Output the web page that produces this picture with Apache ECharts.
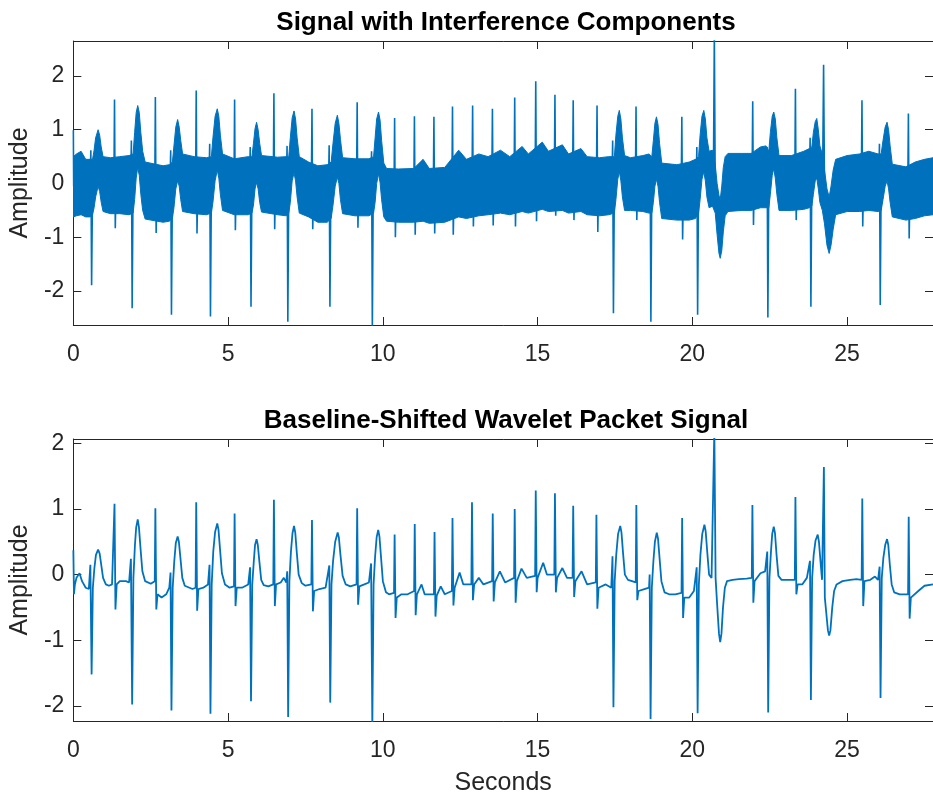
<!DOCTYPE html>
<html><head><meta charset="utf-8">
<script src="https://cdn.jsdelivr.net/npm/echarts@6/dist/echarts.min.js"></script>
<style>html,body{margin:0;padding:0;background:#fff}#c{width:933px;height:797px}</style>
</head><body><div id="c"></div>
<script>
// ---------- data ----------
const xTicks = [0, 5, 10, 15, 20, 25];
const yTicks = [-2, -1, 0, 1, 2];
const xMax = 27.775;
const topYRange = [-2.63, 2.65];
const botYRange = [-2.23, 2.065];
const titles = ['Signal with Interference Components', 'Baseline-Shifted Wavelet Packet Signal'];
const yName = 'Amplitude';
const xName = 'Seconds';

// top panel: interference band envelope [t, lower, upper]
const topBand = [
[0,-0.62,0.5],[0.1,-0.6,0.55],[0.25,-0.58,0.6],[0.4,-0.62,0.45],[0.55,-0.62,0.45],
[0.62,-0.58,0.45],[0.67,-0.45,0.62],[0.72,-0.25,0.85],[0.8,-0.05,1.0],[0.85,-0.15,0.9],[0.9,-0.35,0.68],[0.96,-0.52,0.5],
[1.2,-0.56,0.48],[1.5,-0.56,0.5],[1.8,-0.58,0.52],
[1.93,-0.55,0.55],[1.98,-0.3,0.95],[2.03,0.1,1.32],[2.08,0.3,1.45],[2.13,0.15,1.32],[2.18,-0.2,0.95],[2.24,-0.5,0.6],[2.32,-0.66,0.4],
[2.9,-0.72,0.33],[3.1,-0.7,0.35],
[3.2,-0.65,0.4],[3.25,-0.45,0.7],[3.31,-0.1,1.05],[3.37,0.05,1.19],[3.42,-0.05,1.05],[3.47,-0.3,0.8],[3.53,-0.52,0.55],
[3.9,-0.56,0.5],[4.3,-0.58,0.48],
[4.46,-0.55,0.5],[4.51,-0.35,0.85],[4.58,0.05,1.25],[4.65,0.25,1.39],[4.7,0.1,1.25],[4.75,-0.2,0.9],[4.82,-0.5,0.55],
[5.2,-0.58,0.46],[5.65,-0.58,0.5],
[5.77,-0.55,0.5],[5.82,-0.4,0.75],[5.87,-0.1,1.02],[5.92,0.02,1.14],[5.97,-0.1,1.0],[6.02,-0.35,0.75],[6.08,-0.53,0.52],
[6.6,-0.58,0.49],[6.88,-0.6,0.5],
[6.96,-0.55,0.5],[7.01,-0.35,0.85],[7.07,0.05,1.22],[7.13,0.2,1.35],[7.18,0.05,1.2],[7.23,-0.25,0.85],[7.3,-0.55,0.5],
[7.6,-0.62,0.4],[7.9,-0.72,0.33],[8.2,-0.72,0.35],
[8.33,-0.65,0.4],[8.39,-0.4,0.75],[8.46,-0.05,1.12],[8.53,0.12,1.27],[8.58,0.0,1.12],[8.63,-0.3,0.82],[8.7,-0.56,0.48],
[9.1,-0.6,0.46],[9.55,-0.6,0.46],
[9.7,-0.55,0.5],[9.75,-0.35,0.85],[9.8,0.0,1.2],[9.86,0.18,1.33],[9.91,0.02,1.18],[9.96,-0.3,0.8],[10.03,-0.62,0.38],[10.12,-0.7,0.28],
[10.5,-0.72,0.27],[11.0,-0.72,0.28],[11.3,-0.7,0.45],[11.5,-0.74,0.28],[12.0,-0.72,0.3],[12.45,-0.62,0.62],[12.7,-0.65,0.45],
[13.1,-0.6,0.55],[13.4,-0.58,0.5],[13.8,-0.55,0.62],[14.1,-0.58,0.5],[14.5,-0.52,0.69],[14.7,-0.55,0.55],[15.15,-0.48,0.77],
[15.35,-0.52,0.6],[15.8,-0.5,0.72],[16.0,-0.55,0.55],[16.4,-0.52,0.65],[16.6,-0.58,0.5],[17.0,-0.6,0.48],[17.3,-0.58,0.5],
[17.48,-0.55,0.5],[17.53,-0.3,0.9],[17.59,0.08,1.25],[17.64,0.22,1.36],[17.69,0.05,1.2],[17.74,-0.25,0.85],[17.81,-0.5,0.52],
[18.0,-0.5,0.48],[18.4,-0.52,0.52],[18.6,-0.55,0.55],
[18.69,-0.55,0.5],[18.74,-0.35,0.8],[18.79,-0.05,1.12],[18.84,0.08,1.24],[18.89,-0.05,1.1],[18.94,-0.35,0.75],[19.01,-0.65,0.38],
[19.5,-0.68,0.35],[19.9,-0.68,0.4],[20.1,-0.65,0.45],
[20.2,-0.55,0.5],[20.25,-0.3,0.9],[20.31,0.08,1.25],[20.37,0.22,1.36],[20.42,0.05,1.2],[20.47,-0.25,0.85],[20.54,-0.45,0.6],
[20.65,-0.42,0.62],[20.74,-0.55,0.35],[20.8,-0.95,0.0],[20.86,-1.3,-0.22],[20.9,-1.39,-0.3],[20.95,-1.25,-0.05],[21.0,-0.9,0.3],
[21.06,-0.6,0.5],[21.15,-0.52,0.56],[21.6,-0.5,0.56],[21.9,-0.5,0.56],[22.2,-0.45,0.68],[22.38,-0.45,0.7],
[22.47,-0.45,0.6],[22.52,-0.2,0.95],[22.58,0.15,1.25],[22.63,0.28,1.33],[22.68,0.1,1.2],[22.73,-0.2,0.85],[22.8,-0.5,0.52],
[23.2,-0.5,0.52],[23.6,-0.48,0.6],[23.78,-0.45,0.65],
[23.86,-0.42,0.68],[23.91,-0.2,0.95],[23.97,0.05,1.15],[24.02,0.1,1.21],[24.07,-0.1,1.0],[24.12,-0.35,0.7],[24.2,-0.5,0.55],
[24.27,-0.75,0.25],[24.35,-1.15,-0.1],[24.42,-1.3,-0.25],[24.48,-1.15,-0.05],[24.55,-0.85,0.25],[24.63,-0.58,0.45],
[25.0,-0.52,0.52],[25.4,-0.52,0.55],[25.7,-0.5,0.6],[26.0,-0.52,0.55],
[26.1,-0.5,0.55],[26.16,-0.3,0.8],[26.23,-0.05,1.05],[26.29,0.05,1.14],[26.34,-0.1,1.0],[26.39,-0.35,0.7],[26.46,-0.62,0.36],
[26.9,-0.68,0.31],[27.2,-0.65,0.4],[27.5,-0.6,0.45],[27.775,-0.58,0.48]
];

// top panel: spikes that leave the band, one segment each [t, amplitude]
const topSegments = [
[[0,0.99],[0.01,-0.05]],
[[0.54,-0.05],[0.565,0.62],[0.59,-1.89],[0.62,-0.05]],
[[1.31,-0.05],[1.33,1.56],[1.355,-0.83],[1.38,-0.05]],
[[1.85,-0.05],[1.875,0.8],[1.9,-2.32],[1.93,0.0]],
[[2.63,-0.15],[2.65,1.61],[2.675,-0.92],[2.7,-0.15]],
[[3.12,-0.15],[3.145,0.62],[3.17,-2.44],[3.2,-0.1]],
[[3.95,-0.05],[3.97,1.73],[3.995,-0.93],[4.02,-0.05]],
[[4.38,-0.05],[4.405,0.74],[4.43,-2.47],[4.46,-0.05]],
[[5.19,-0.05],[5.21,1.56],[5.235,-0.87],[5.26,-0.05]],
[[5.69,-0.05],[5.715,0.68],[5.74,-2.29],[5.77,-0.05]],
[[6.46,-0.05],[6.48,1.68],[6.505,-0.85],[6.53,-0.05]],
[[6.88,-0.05],[6.905,0.7],[6.93,-2.57],[6.96,-0.05]],
[[7.69,-0.1],[7.71,1.39],[7.735,-0.85],[7.76,-0.1]],
[[8.24,-0.15],[8.265,0.71],[8.29,-2.29],[8.32,-0.1]],
[[9.15,-0.07],[9.17,1.51],[9.195,-0.82],[9.22,-0.07]],
[[9.61,-0.07],[9.635,0.6],[9.66,-2.75],[9.69,-0.05]],
[[10.36,-0.2],[10.38,1.22],[10.405,-1.0],[10.43,-0.2]],
[[11.0,-0.2],[11.02,1.25],[11.045,-0.95],[11.07,-0.2]],
[[11.63,-0.2],[11.65,1.24],[11.675,-0.93],[11.7,-0.2]],
[[12.23,-0.2],[12.25,1.43],[12.275,-0.95],[12.3,-0.15]],
[[12.88,-0.1],[12.9,1.45],[12.925,-0.8],[12.95,-0.05]],
[[13.52,-0.05],[13.54,1.39],[13.565,-0.78],[13.59,-0.05]],
[[14.24,-0.05],[14.26,1.6],[14.285,-0.8],[14.31,0.0]],
[[14.92,0.05],[14.94,1.9],[14.965,-0.7],[14.99,0.05]],
[[15.54,0.05],[15.56,1.65],[15.585,-0.6],[15.61,0.05]],
[[16.13,0.0],[16.15,1.55],[16.175,-0.68],[16.2,0.0]],
[[16.9,-0.05],[16.92,1.45],[16.945,-0.9],[16.97,-0.05]],
[[17.4,-0.05],[17.425,0.8],[17.45,-2.41],[17.48,-0.05]],
[[18.16,0.0],[18.18,1.43],[18.205,-0.68],[18.23,0.0]],
[[18.61,0.0],[18.635,0.5],[18.66,-2.57],[18.69,-0.05]],
[[19.64,-0.15],[19.66,1.24],[19.685,-1.04],[19.71,-0.15]],
[[20.12,-0.1],[20.145,0.68],[20.17,-2.44],[20.2,-0.05]],
[[20.68,0.1],[20.71,2.8],[20.74,-0.2]],
[[21.93,0.05],[21.95,1.53],[21.975,-0.77],[22.0,0.05]],
[[22.39,0.1],[22.415,0.68],[22.44,-2.49],[22.47,0.05]],
[[23.31,0.0],[23.33,1.76],[23.355,-0.68],[23.38,0.0]],
[[23.78,0.1],[23.805,0.85],[23.83,-2.29],[23.86,0.1]],
[[24.21,0.2],[24.24,2.21],[24.27,-0.1]],
[[25.46,0.0],[25.48,1.55],[25.505,-0.8],[25.53,0.0]],
[[26.02,0.0],[26.045,0.74],[26.07,-2.26],[26.1,0.0]],
[[26.96,-0.15],[26.98,1.3],[27.005,-1.02],[27.03,-0.15]]
];

// bottom panel: baseline-shifted signal [t, amplitude]
const bottomSignal = [
[0,0.37],[0.02,-0.3],[0.05,-0.15],[0.1,-0.05],[0.2,0.02],[0.28,-0.1],[0.4,-0.2],[0.5,-0.22],[0.55,0.15],
[0.59,-1.52],[0.63,-0.2],[0.68,0.1],[0.73,0.3],[0.8,0.38],[0.85,0.32],[0.9,0.15],[0.96,-0.05],[1.05,-0.15],
[1.15,-0.17],[1.25,-0.15],[1.31,-0.12],[1.33,1.08],[1.36,-0.53],[1.4,-0.15],[1.5,-0.1],[1.7,-0.1],[1.8,-0.12],[1.86,0.24],
[1.9,-1.98],[1.94,-0.05],[1.99,0.45],[2.03,0.72],[2.08,0.84],[2.12,0.72],[2.17,0.4],[2.23,0.05],[2.32,-0.1],
[2.5,-0.14],[2.63,-0.1],[2.65,1.01],[2.68,-0.53],[2.72,-0.3],[2.85,-0.35],[3.0,-0.3],[3.1,-0.2],[3.14,0.03],
[3.17,-2.07],[3.21,-0.2],[3.26,0.2],[3.31,0.48],[3.37,0.58],[3.41,0.5],[3.46,0.25],[3.52,-0.05],[3.6,-0.17],
[3.75,-0.2],[3.85,-0.22],[3.95,-0.2],[3.97,1.10],[4.0,-0.55],[4.04,-0.22],[4.2,-0.2],[4.35,-0.15],[4.4,0.15],
[4.43,-2.12],[4.47,-0.15],[4.52,0.35],[4.58,0.65],[4.65,0.78],[4.69,0.68],[4.74,0.38],[4.8,0.02],[4.9,-0.15],
[5.05,-0.2],[5.19,-0.18],[5.21,0.93],[5.24,-0.48],[5.28,-0.2],[5.45,-0.2],[5.65,-0.15],[5.71,0.11],
[5.74,-1.93],[5.78,-0.15],[5.83,0.2],[5.87,0.45],[5.92,0.54],[5.96,0.45],[6.01,0.2],[6.07,-0.08],[6.15,-0.16],
[6.3,-0.18],[6.46,-0.15],[6.48,1.14],[6.51,-0.48],[6.55,-0.15],[6.7,-0.12],[6.8,-0.05],[6.88,-0.12],[6.91,0.05],
[6.94,-2.17],[6.98,-0.1],[7.03,0.35],[7.08,0.63],[7.13,0.74],[7.17,0.64],[7.22,0.33],[7.28,0.0],[7.38,-0.13],
[7.5,-0.17],[7.69,-0.15],[7.71,0.83],[7.74,-0.56],[7.78,-0.25],[7.95,-0.22],[8.15,-0.2],[8.27,0.14],
[8.3,-1.95],[8.34,-0.15],[8.39,0.2],[8.46,0.5],[8.54,0.64],[8.58,0.56],[8.63,0.3],[8.7,-0.02],[8.8,-0.15],
[8.95,-0.18],[9.15,-0.15],[9.17,1.01],[9.2,-0.46],[9.24,-0.18],[9.4,-0.15],[9.55,-0.12],[9.62,0.17],
[9.66,-2.3],[9.7,-0.15],[9.75,0.28],[9.8,0.57],[9.85,0.68],[9.89,0.58],[9.94,0.27],[10.0,-0.1],[10.1,-0.27],
[10.2,-0.3],[10.36,-0.28],[10.38,0.61],[10.41,-0.66],[10.45,-0.35],[10.6,-0.3],[10.8,-0.3],[11.01,-0.25],[11.03,0.77],
[11.06,-0.62],[11.1,-0.3],[11.25,-0.15],[11.35,-0.3],[11.5,-0.3],[11.65,-0.3],[11.67,0.65],[11.7,-0.64],[11.74,-0.32],
[11.87,-0.18],[12.0,-0.3],[12.23,-0.25],[12.25,0.86],[12.28,-0.47],[12.32,-0.2],[12.48,0.03],[12.6,-0.15],[12.86,-0.15],
[12.88,1.10],[12.91,-0.39],[12.95,-0.15],[13.1,-0.05],[13.25,-0.15],[13.53,-0.1],[13.55,0.93],[13.58,-0.41],[13.62,-0.12],
[13.78,0.05],[13.95,-0.12],[14.24,-0.05],[14.26,1.0],[14.29,-0.43],[14.33,-0.1],[14.48,0.09],[14.65,-0.05],[14.92,-0.02],
[14.94,1.28],[14.97,-0.27],[15.0,-0.05],[15.18,0.18],[15.3,0.0],[15.54,0.0],[15.56,1.24],[15.59,-0.27],[15.63,-0.05],
[15.8,0.1],[15.95,-0.05],[16.13,-0.05],[16.15,1.05],[16.18,-0.34],[16.22,-0.1],[16.42,0.05],[16.6,-0.15],[16.88,-0.12],
[16.9,0.91],[16.93,-0.52],[16.97,-0.2],[17.2,-0.15],[17.38,-0.2],[17.42,0.28],
[17.45,-2.02],[17.49,-0.1],[17.54,0.3],[17.6,0.62],[17.67,0.74],[17.71,0.64],[17.76,0.33],[17.82,0.0],[17.92,-0.08],
[18.05,-0.1],[18.17,-0.12],[18.19,1.06],[18.22,-0.39],[18.26,-0.25],[18.45,-0.22],[18.6,-0.2],[18.62,0.0],
[18.65,-2.2],[18.69,-0.2],[18.74,0.2],[18.79,0.5],[18.85,0.64],[18.89,0.55],[18.94,0.25],[19.0,-0.1],[19.1,-0.27],
[19.25,-0.3],[19.45,-0.3],[19.65,-0.28],[19.67,0.86],[19.7,-0.66],[19.74,-0.35],[19.9,-0.35],[20.05,-0.25],[20.14,0.11],
[20.17,-2.11],[20.21,-0.15],[20.26,0.3],[20.32,0.62],[20.39,0.76],[20.43,0.66],[20.48,0.35],[20.54,0.0],[20.62,-0.05],
[20.67,-0.03],[20.71,2.2],[20.75,-0.05],[20.8,-0.45],[20.86,-0.9],[20.9,-1.03],[20.94,-0.9],[20.99,-0.5],[21.05,-0.2],[21.12,-0.1],
[21.3,-0.08],[21.5,-0.07],[21.75,-0.06],[21.92,-0.05],[21.94,1.06],[21.97,-0.43],[22.01,-0.1],[22.2,0.02],[22.35,0.05],[22.42,0.35],
[22.45,-2.1],[22.49,-0.05],[22.54,0.35],[22.58,0.62],[22.63,0.73],[22.67,0.63],[22.72,0.3],[22.78,-0.02],[22.88,-0.08],
[23.05,-0.08],[23.31,-0.08],[23.33,1.18],[23.36,-0.3],[23.4,-0.15],[23.55,-0.15],[23.7,-0.05],[23.8,0.21],
[23.83,-1.91],[23.87,-0.05],[23.92,0.3],[23.98,0.52],[24.05,0.61],[24.09,0.5],[24.14,0.2],[24.19,-0.08],[24.23,-0.05],
[24.25,1.64],[24.28,-0.35],[24.33,-0.6],[24.38,-0.85],[24.42,-0.93],[24.46,-0.85],[24.52,-0.5],[24.58,-0.25],[24.66,-0.15],
[24.85,-0.1],[25.1,-0.08],[25.3,-0.07],[25.47,-0.08],[25.49,1.16],[25.52,-0.48],[25.56,-0.1],[25.75,-0.08],[25.9,-0.03],
[26.0,-0.08],[26.05,0.12],
[26.08,-1.88],[26.12,-0.05],[26.17,0.25],[26.23,0.45],[26.29,0.54],[26.33,0.45],[26.38,0.15],[26.44,-0.15],[26.52,-0.27],
[26.7,-0.3],[26.97,-0.3],[26.99,0.88],[27.02,-0.67],[27.06,-0.35],[27.3,-0.25],[27.5,-0.17],[27.775,-0.15]
];

// ---------- chart ----------
const FONT = "'Liberation Sans', Arial, Helvetica, sans-serif";
const AX = '#262626';
const BLUE = '#0072BD';
const TICK_FS = 23, NAME_FS = 25, TITLE_FS = 26;

const grids = [
  {left: 72.5, top: 41, width: 867, height: 284},
  {left: 72.5, top: 439, width: 867, height: 284}
];

function xAx(g, pos, main) {
  return {
    type: 'value', gridIndex: g, position: pos, min: 0, max: xMax,
    axisLine: {show: true, onZero: false, lineStyle: {color: AX, width: 1}},
    axisTick: {show: true, inside: true, length: 8, customValues: xTicks, lineStyle: {color: AX, width: 1}},
    axisLabel: {show: main, customValues: xTicks, margin: 18, color: AX, fontSize: TICK_FS, fontFamily: FONT},
    splitLine: {show: false},
    name: (main && g === 1) ? xName : '',
    nameLocation: 'middle', nameGap: 50,
    nameTextStyle: {color: AX, fontSize: NAME_FS, fontFamily: FONT}
  };
}
function yAx(g, pos, main, range) {
  return {
    type: 'value', gridIndex: g, position: pos, min: range[0], max: range[1],
    axisLine: {show: true, onZero: false, lineStyle: {color: AX, width: 1}},
    axisTick: {show: true, inside: true, length: 8, customValues: yTicks, lineStyle: {color: AX, width: 1}},
    axisLabel: {show: main, customValues: yTicks, margin: 9, color: AX, fontSize: TICK_FS, fontFamily: FONT},
    splitLine: {show: false},
    name: main ? yName : '',
    nameLocation: 'middle', nameGap: 30,
    nameTextStyle: {color: AX, fontSize: NAME_FS, fontFamily: FONT}
  };
}

const topSegData = [];
topSegments.forEach(seg => {
  seg.forEach(p => topSegData.push(p));
  topSegData.push([seg[seg.length - 1][0], '-']);
});

const chart = echarts.init(document.getElementById('c'), null, {renderer: 'canvas'});
chart.setOption({
  animation: false,
  backgroundColor: '#ffffff',
  grid: grids,
  xAxis: [xAx(0, 'bottom', true), xAx(0, 'top', false), xAx(1, 'bottom', true), xAx(1, 'top', false)],
  yAxis: [yAx(0, 'left', true, topYRange), yAx(0, 'right', false, topYRange),
          yAx(1, 'left', true, botYRange), yAx(1, 'right', false, botYRange)],
  graphic: [
    {type: 'text', x: 506, y: 23, style: {text: titles[0], align: 'center', verticalAlign: 'middle',
      fill: '#000', font: 'bold ' + TITLE_FS + 'px ' + FONT}},
    {type: 'text', x: 506, y: 421, style: {text: titles[1], align: 'center', verticalAlign: 'middle',
      fill: '#000', font: 'bold ' + TITLE_FS + 'px ' + FONT}}
  ],
  series: [
    {
      type: 'custom', xAxisIndex: 0, yAxisIndex: 0, data: topBand,
      encode: {x: 0, y: [1, 2]}, clip: true, silent: true,
      renderItem: function (params, api) {
        if (params.dataIndex !== 0) return null;
        const up = topBand.map(r => api.coord([r[0], r[2]]));
        const dn = topBand.map(r => api.coord([r[0], r[1]])).reverse();
        return {type: 'polygon', shape: {points: up.concat(dn)},
          style: {fill: BLUE, stroke: BLUE, lineWidth: 1}};
      }
    },
    {
      type: 'line', xAxisIndex: 0, yAxisIndex: 0, data: topSegData,
      showSymbol: false, connectNulls: false, clip: true, silent: true,
      lineStyle: {color: BLUE, width: 1.6}
    },
    {
      type: 'line', xAxisIndex: 2, yAxisIndex: 2, data: bottomSignal,
      showSymbol: false, clip: true, silent: true,
      lineStyle: {color: BLUE, width: 1.8}
    }
  ]
});
</script></body></html>
